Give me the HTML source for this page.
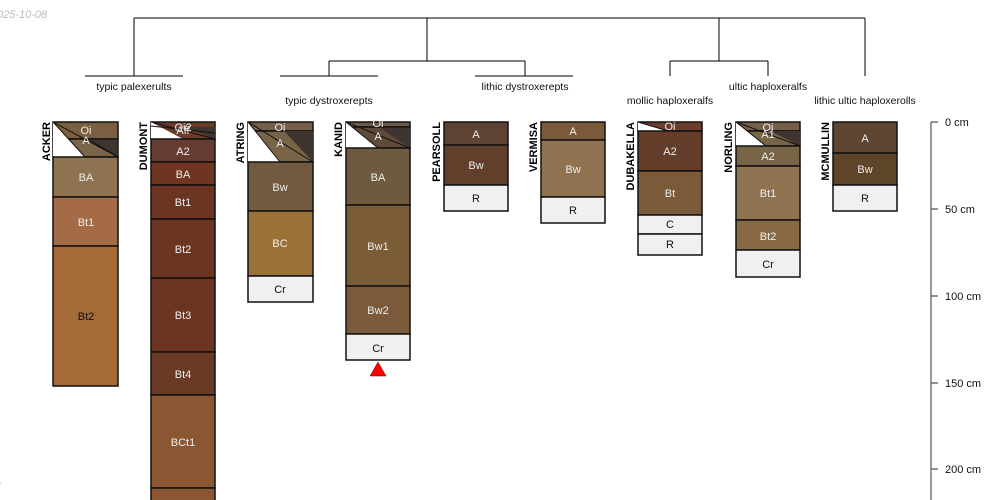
<!DOCTYPE html>
<html><head><meta charset="utf-8"><style>
html,body{margin:0;padding:0;background:#fff;}
svg{display:block;font-family:"Liberation Sans",sans-serif;}
.h{stroke:#111;stroke-width:1.5;}
.t{font-size:11px;fill:#eee;text-anchor:middle;}
.k{font-size:11px;fill:#111;text-anchor:middle;}
.n{font-size:11px;font-weight:bold;fill:#000;text-anchor:end;}
.d{stroke:#000;stroke-width:1;fill:none;}
.l{font-size:10.5px;fill:#111;text-anchor:middle;}
</style></head><body>
<svg width="1000" height="500" viewBox="0 0 1000 500">
<text x="-3" y="18" font-size="11" fill="#bbb" font-style="italic">025-10-08</text>
<text x="-2" y="490" font-size="11" fill="#bbb" font-style="italic">l</text>
<!-- dendrogram -->
<path class="d" d="M134 18H865M134 18V76M85 76H183M427 18V61M329 61H525M329 61V76M280 76H378M525 61V76M475 76H573M719 18V61M670 61H768M670 61V76M768 61V76M865 18V76"/>
<text class="l" x="134" y="90">typic palexerults</text>
<text class="l" x="329" y="104">typic dystroxerepts</text>
<text class="l" x="525" y="90">lithic dystroxerepts</text>
<text class="l" x="670" y="104">mollic haploxeralfs</text>
<text class="l" x="768" y="90">ultic haploxeralfs</text>
<text class="l" x="865" y="104">lithic ultic haploxerolls</text>

<!-- ACKER -->
<g>
<rect class="h" x="53" y="122" width="65" height="17" fill="#7a6040"/>
<rect class="h" x="53" y="139" width="65" height="18" fill="#7a6548"/>
<polygon points="53,122 53,157 85,157" fill="#fff"/>
<polygon points="88,139 118,139 118,157" fill="#3f3530" stroke="#111"/>
<line x1="53" y1="122" x2="118" y2="157" stroke="#111"/>
<line x1="53" y1="122" x2="85" y2="157" stroke="#111"/>
<rect class="h" x="53" y="157" width="65" height="40" fill="#8f7350"/>
<rect class="h" x="53" y="197" width="65" height="49" fill="#a56b47"/>
<rect class="h" x="53" y="246" width="65" height="140" fill="#a46b38"/>
<text class="t" x="86" y="134">Oi</text><text class="t" x="86" y="144">A</text>
<text class="t" x="86" y="181">BA</text><text class="t" x="86" y="226">Bt1</text><text class="k" x="86" y="320">Bt2</text>
<text class="n" transform="translate(50,122) rotate(-90)">ACKER</text>
</g>
<!-- DUMONT -->
<g>
<rect class="h" x="151" y="122" width="64" height="17" fill="#6b3d2a"/>
<polygon points="151,122 151,139 183,139" fill="#fff"/>
<polygon points="185,127 215,127 215,139" fill="#3f3530"/>
<line x1="151" y1="122" x2="215" y2="139" stroke="#111"/><line x1="151" y1="126" x2="215" y2="133" stroke="#111"/>
<rect class="h" x="151" y="139" width="64" height="23" fill="#643d30"/>
<rect class="h" x="151" y="162" width="64" height="23" fill="#6e3520"/>
<rect class="h" x="151" y="185" width="64" height="34" fill="#6b3522"/>
<rect class="h" x="151" y="219" width="64" height="59" fill="#6b3522"/>
<rect class="h" x="151" y="278" width="64" height="74" fill="#6b3522"/>
<rect class="h" x="151" y="352" width="64" height="43" fill="#6b3a25"/>
<rect class="h" x="151" y="395" width="64" height="93" fill="#8b5733"/>
<rect class="h" x="151" y="488" width="64" height="20" fill="#8b5733"/>
<text class="t" x="183" y="131" font-size="10">Oi2</text><text class="t" x="183" y="134" font-size="10">Aff</text>
<text class="t" x="183" y="155">A2</text><text class="t" x="183" y="178">BA</text><text class="t" x="183" y="206">Bt1</text>
<text class="t" x="183" y="253">Bt2</text><text class="t" x="183" y="319">Bt3</text><text class="t" x="183" y="378">Bt4</text>
<text class="t" x="183" y="446" font-size="9">BCt1</text>
<text class="n" transform="translate(147,122) rotate(-90)">DUMONT</text>
</g>
<!-- ATRING -->
<g>
<rect class="h" x="248" y="122" width="65" height="9" fill="#76604a"/>
<rect class="h" x="248" y="131" width="65" height="31" fill="#786548"/>
<polygon points="248,122 248,162 280,162" fill="#fff"/>
<polygon points="284,131 313,131 313,162" fill="#3f3530"/>
<line x1="248" y1="122" x2="313" y2="162" stroke="#111"/><line x1="248" y1="122" x2="280" y2="162" stroke="#111"/>
<rect class="h" x="248" y="162" width="65" height="49" fill="#715a40"/>
<rect class="h" x="248" y="211" width="65" height="65" fill="#9a7238"/>
<rect class="h" x="248" y="276" width="65" height="26" fill="#f0f0f0"/>
<text class="t" x="280" y="131">Oi</text><text class="t" x="280" y="147">A</text>
<text class="t" x="280" y="191">Bw</text><text class="t" x="280" y="247">BC</text><text class="k" x="280" y="293">Cr</text>
<text class="n" transform="translate(244,122) rotate(-90)">ATRING</text>
</g>
<!-- KANID -->
<g>
<rect class="h" x="346" y="122" width="64" height="5" fill="#6b5a48"/>
<rect class="h" x="346" y="127" width="64" height="21" fill="#5e4a38"/>
<polygon points="346,122 346,148 378,148" fill="#fff"/>
<polygon points="380,128 410,128 410,148" fill="#3f3530"/>
<line x1="346" y1="122" x2="410" y2="148" stroke="#111"/><line x1="346" y1="122" x2="378" y2="148" stroke="#111"/>
<rect class="h" x="346" y="148" width="64" height="57" fill="#6f5a40"/>
<rect class="h" x="346" y="205" width="64" height="81" fill="#7a5c37"/>
<rect class="h" x="346" y="286" width="64" height="48" fill="#7b5a3c"/>
<rect class="h" x="346" y="334" width="64" height="26" fill="#f0f0f0"/>
<text class="t" x="378" y="127">Oi</text><text class="t" x="378" y="140">A</text>
<text class="t" x="378" y="181">BA</text><text class="t" x="378" y="250">Bw1</text><text class="t" x="378" y="314">Bw2</text><text class="k" x="378" y="352">Cr</text>
<polygon points="378,362 370,376 386,376" fill="#f00" stroke="#600" stroke-width="0.5"/>
<text class="n" transform="translate(342,122) rotate(-90)">KANID</text>
</g>
<!-- PEARSOLL -->
<g>
<rect class="h" x="444" y="122" width="64" height="23" fill="#5e4233"/>
<rect class="h" x="444" y="145" width="64" height="40" fill="#613f2a"/>
<rect class="h" x="444" y="185" width="64" height="26" fill="#f0f0f0"/>
<text class="t" x="476" y="138">A</text><text class="t" x="476" y="169">Bw</text><text class="k" x="476" y="202">R</text>
<text class="n" transform="translate(440,122) rotate(-90)">PEARSOLL</text>
</g>
<!-- VERMISA -->
<g>
<rect class="h" x="541" y="122" width="64" height="18" fill="#7a5a38"/>
<rect class="h" x="541" y="140" width="64" height="57" fill="#8f7350"/>
<rect class="h" x="541" y="197" width="64" height="26" fill="#f0f0f0"/>
<text class="t" x="573" y="135">A</text><text class="t" x="573" y="173">Bw</text><text class="k" x="573" y="214">R</text>
<text class="n" transform="translate(537,122) rotate(-90)">VERMISA</text>
</g>
<!-- DUBAKELLA -->
<g>
<rect class="h" x="638" y="122" width="64" height="9" fill="#6b3d2a"/>
<polygon points="638,122 638,131 668,131" fill="#fff"/>
<line x1="638" y1="122" x2="668" y2="131" stroke="#111"/>
<rect class="h" x="638" y="131" width="64" height="40" fill="#643d2a"/>
<rect class="h" x="638" y="171" width="64" height="44" fill="#7a5a38"/>
<rect class="h" x="638" y="215" width="64" height="19" fill="#f0f0f0"/>
<rect class="h" x="638" y="234" width="64" height="21" fill="#f0f0f0"/>
<text class="t" x="670" y="130">Oi</text>
<text class="t" x="670" y="155">A2</text><text class="t" x="670" y="197">Bt</text><text class="k" x="670" y="228">C</text><text class="k" x="670" y="248">R</text>
<text class="n" transform="translate(634,122) rotate(-90)">DUBAKELLA</text>
</g>
<!-- NORLING -->
<g>
<rect class="h" x="736" y="122" width="64" height="9" fill="#76604a"/>
<rect class="h" x="736" y="131" width="64" height="15" fill="#786548"/>
<polygon points="736,122 736,146 766,146" fill="#fff"/>
<polygon points="770,131 800,131 800,146" fill="#3f3530"/>
<line x1="736" y1="122" x2="800" y2="146" stroke="#111"/><line x1="736" y1="122" x2="766" y2="146" stroke="#111"/>
<rect class="h" x="736" y="146" width="64" height="20" fill="#786548"/>
<rect class="h" x="736" y="166" width="64" height="54" fill="#8f7350"/>
<rect class="h" x="736" y="220" width="64" height="30" fill="#8a6a45"/>
<rect class="h" x="736" y="250" width="64" height="27" fill="#f0f0f0"/>
<text class="t" x="768" y="131">Oi</text><text class="t" x="768" y="138">A1</text>
<text class="t" x="768" y="160">A2</text><text class="t" x="768" y="197">Bt1</text><text class="t" x="768" y="240">Bt2</text><text class="k" x="768" y="268">Cr</text>
<text class="n" transform="translate(732,122) rotate(-90)">NORLING</text>
</g>
<!-- MCMULLIN -->
<g>
<rect class="h" x="833" y="122" width="64" height="31" fill="#5e4632"/>
<rect class="h" x="833" y="153" width="64" height="32" fill="#5e4428"/>
<rect class="h" x="833" y="185" width="64" height="26" fill="#f0f0f0"/>
<text class="t" x="865" y="142">A</text><text class="t" x="865" y="173">Bw</text><text class="k" x="865" y="202">R</text>
<text class="n" transform="translate(829,122) rotate(-90)">MCMULLIN</text>
</g>
<!-- axis -->
<path d="M931 122V500M931 122H938M931 209H938M931 296H938M931 383H938M931 469H938" stroke="#555" stroke-width="1.2" fill="none"/>
<g font-size="11" fill="#111">
<text x="945" y="126">0 cm</text><text x="945" y="213">50 cm</text><text x="945" y="300">100 cm</text><text x="945" y="387">150 cm</text><text x="945" y="473">200 cm</text>
</g>
</svg>
</body></html>
